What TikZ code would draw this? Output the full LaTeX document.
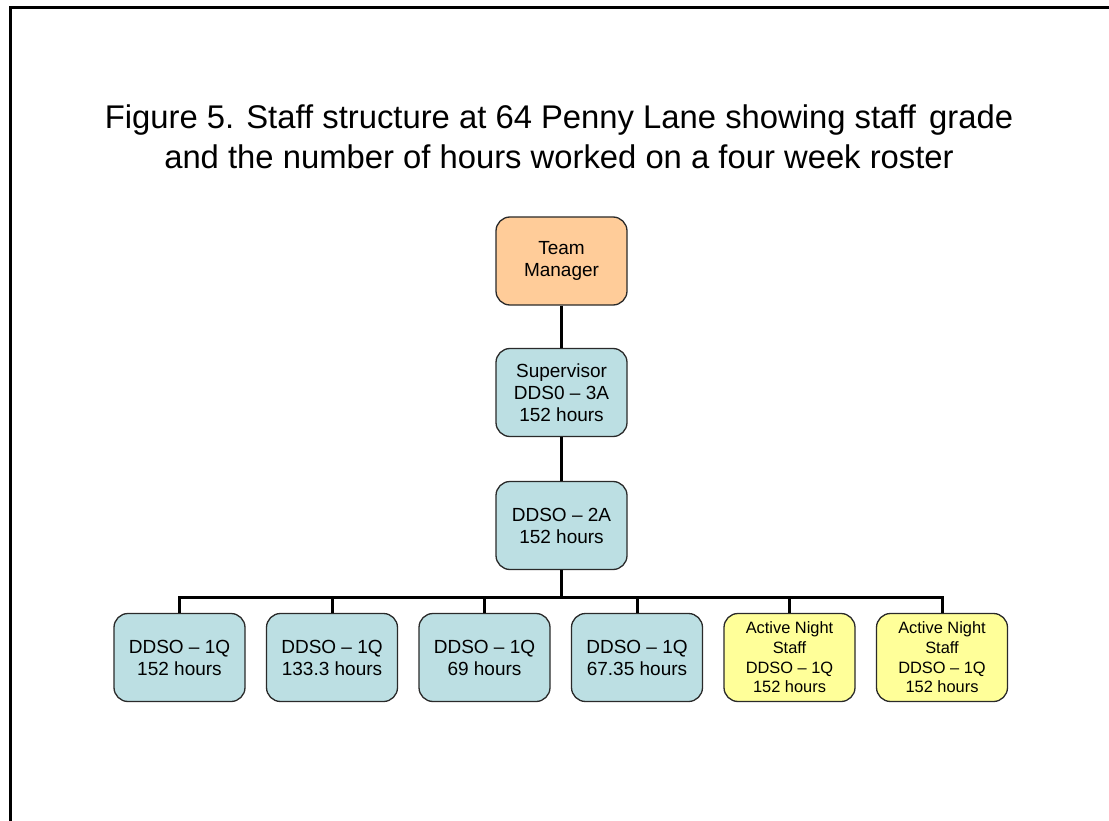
\documentclass[tikz,border=0pt]{standalone}
\usepackage{fontspec}
\setmainfont{Liberation Sans}
\definecolor{mgrfill}{HTML}{FFCC99}
\definecolor{stafffill}{HTML}{BCDFE3}
\definecolor{nightfill}{HTML}{FFFF99}
\definecolor{boxline}{HTML}{2A2A2A}
\tikzset{
  orgbox/.style={draw=boxline, line width=1.3pt, rounded corners=14pt,
    minimum width=131pt, minimum height=88pt, align=center, inner sep=2pt,
    font=\fontsize{19}{22}\selectfont},
  nightbox/.style={orgbox, fill=nightfill, font=\fontsize{16.4}{19.6}\selectfont},
  staffbox/.style={orgbox, fill=stafffill},
  conn/.style={line width=3pt, black},
  frameline/.style={line width=3pt, black}
}
\begin{document}
\begin{tikzpicture}[x=1pt, y=-1pt]
\useasboundingbox (0,0) rectangle (1109,821);
% page frame (left and top edges)
\draw[frameline] (10,821) -- (10,8) -- (1109,8);

% title
\node[align=center, font=\fontsize{32.8}{39.5}\selectfont] (title) at (559,137)
  {Figure 5. Staff structure at 64 Penny Lane showing staff\hspace{0.4em}grade\\
   and the number of hours worked on a four week roster};

% management chain
\node[orgbox, fill=mgrfill] (tm) at (561.5,261) {Team\\Manager};
\node[staffbox] (sup) at (561.5,392.5) {Supervisor\\DDS0 -- 3A\\152 hours};
\node[staffbox] (mid) at (561.5,525.5) {DDSO -- 2A\\152 hours};

% front-line staff
\node[staffbox] (b1) at (179.5,657.5) {DDSO -- 1Q\\152 hours};
\node[staffbox] (b2) at (332,657.5) {DDSO -- 1Q\\133.3 hours};
\node[staffbox] (b3) at (484.5,657.5) {DDSO -- 1Q\\69 hours};
\node[staffbox] (b4) at (637,657.5) {DDSO -- 1Q\\67.35 hours};
\node[nightbox] (b5) at (789.5,657.5) {Active Night\\Staff\\DDSO -- 1Q\\152 hours};
\node[nightbox] (b6) at (942,657.5) {Active Night\\Staff\\DDSO -- 1Q\\152 hours};

% connectors
\coordinate (bus) at (561.5,597);
\draw[conn] (tm) -- (sup);
\draw[conn] (sup) -- (mid);
\draw[conn] (mid.south) -- (bus);
\foreach \b in {b1,b2,b3,b4,b5,b6}
  \draw[conn, line join=miter] (\b.north) |- (bus);
\end{tikzpicture}
\end{document}
